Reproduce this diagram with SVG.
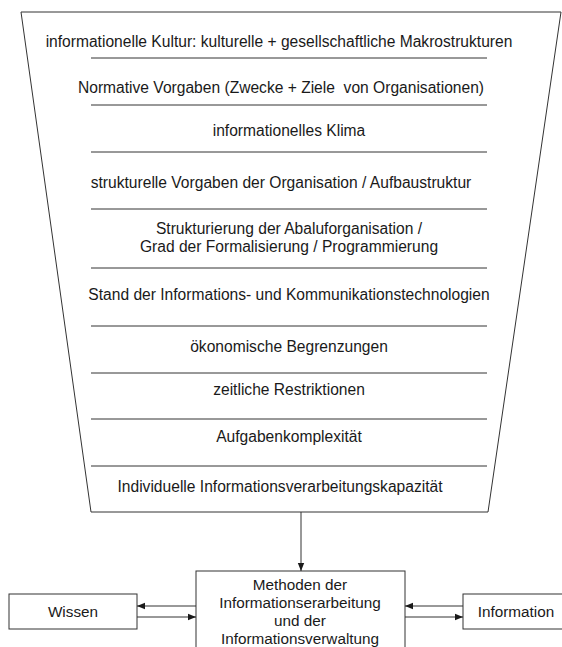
<svg xmlns="http://www.w3.org/2000/svg" width="562" height="647" viewBox="0 0 562 647">
  <style>
    .shape { fill: #ffffff; stroke: #333333; stroke-width: 1; }
    .rule { stroke: #333333; stroke-width: 1; }
    .conn { stroke: #333333; stroke-width: 1; fill: none; marker-end: url(#head); }
    text { font-family: "Liberation Sans", Arial, sans-serif; font-size: 15.6px; fill: #1a1a1a; text-anchor: middle; }
    .box text { font-size: 15.3px; }
  </style>
  <defs>
    <marker id="head" viewBox="0 0 8 8" refX="8" refY="4" markerWidth="8" markerHeight="8" markerUnits="userSpaceOnUse" orient="auto">
      <path d="M0,0.8 L8,4 L0,7.2 Z" fill="#1a1a1a"/>
    </marker>
  </defs>
  <rect width="562" height="647" fill="#ffffff"/>

  <!-- funnel of influencing factors -->
  <g id="funnel">
    <path class="shape" d="M21,12 L561,12 L488,512 L91,512 Z"/>
    <line class="rule" x1="91" y1="58" x2="487" y2="58"/>
    <line class="rule" x1="91" y1="105" x2="487" y2="105"/>
    <line class="rule" x1="91" y1="152" x2="487" y2="152"/>
    <line class="rule" x1="91" y1="209" x2="487" y2="209"/>
    <line class="rule" x1="91" y1="268" x2="487" y2="268"/>
    <line class="rule" x1="91" y1="326" x2="487" y2="326"/>
    <line class="rule" x1="91" y1="373" x2="487" y2="373"/>
    <line class="rule" x1="91" y1="419" x2="487" y2="419"/>
    <line class="rule" x1="91" y1="466" x2="487" y2="466"/>
    <text x="279" y="47">informationelle Kultur: kulturelle + gesellschaftliche Makrostrukturen</text>
    <text x="281" y="93" xml:space="preserve">Normative Vorgaben (Zwecke + Ziele  von Organisationen)</text>
    <text x="289" y="136">informationelles Klima</text>
    <text x="281" y="188">strukturelle Vorgaben der Organisation / Aufbaustruktur</text>
    <text x="289" y="234">Strukturierung der Abaluforganisation /</text>
    <text x="289" y="252">Grad der Formalisierung / Programmierung</text>
    <text x="289" y="300">Stand der Informations- und Kommunikationstechnologien</text>
    <text x="289" y="352">ökonomische Begrenzungen</text>
    <text x="289" y="395">zeitliche Restriktionen</text>
    <text x="289" y="442">Aufgabenkomplexität</text>
    <text x="280" y="492">Individuelle Informationsverarbeitungskapazität</text>
  </g>

  <g id="methoden" class="box">
    <rect class="shape" x="196" y="571" width="209" height="90"/>
    <text x="300" y="590">Methoden der</text>
    <text x="300" y="608">Informationserarbeitung</text>
    <text x="300" y="626">und der</text>
    <text x="300" y="644">Informationsverwaltung</text>
  </g>

  <g id="wissen" class="box">
    <rect class="shape" x="9" y="594" width="128" height="35"/>
    <text x="73" y="617">Wissen</text>
  </g>

  <g id="information" class="box">
    <rect class="shape" x="463" y="594" width="110" height="35"/>
    <text x="516" y="617">Information</text>
  </g>

  <g id="connectors">
    <line class="conn" x1="301" y1="512" x2="301" y2="571"/>
    <line class="conn" x1="196" y1="606" x2="137" y2="606"/>
    <line class="conn" x1="137" y1="617" x2="196" y2="617"/>
    <line class="conn" x1="463" y1="606" x2="405" y2="606"/>
    <line class="conn" x1="405" y1="617" x2="463" y2="617"/>
  </g>
</svg>
